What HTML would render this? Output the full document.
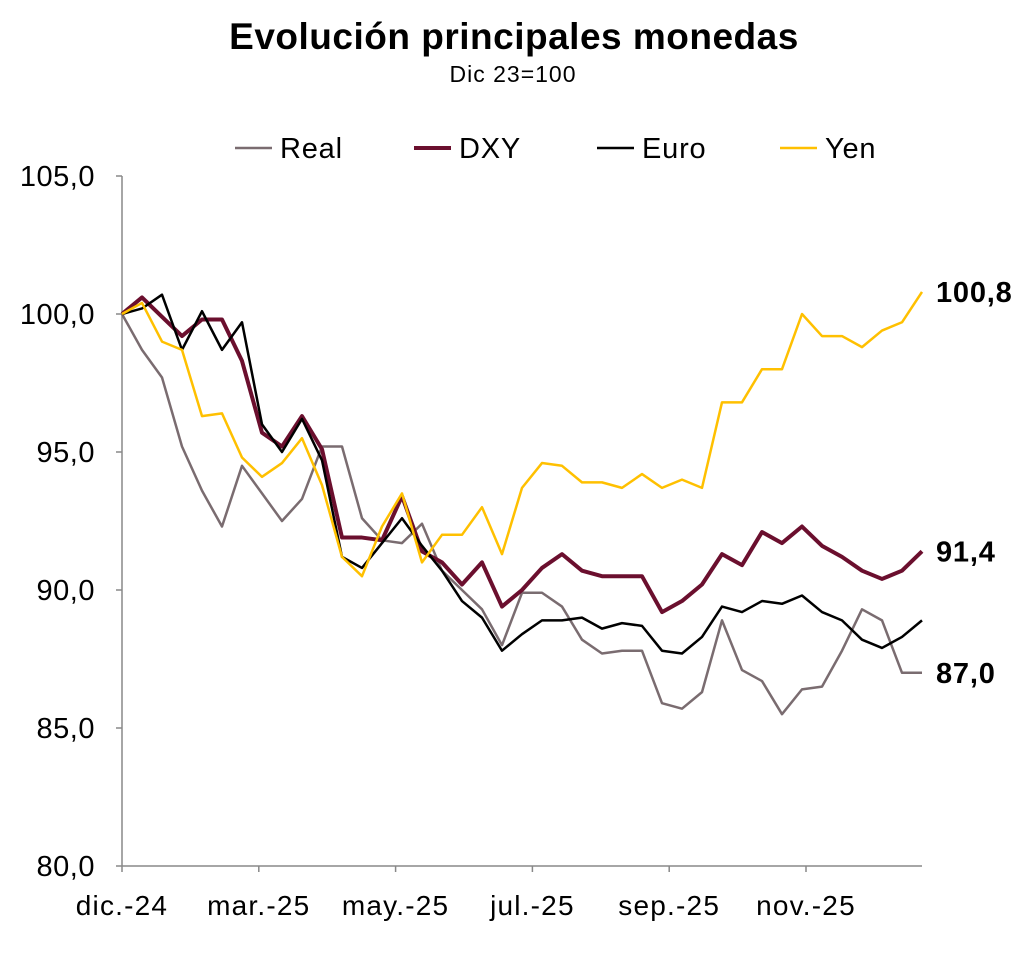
<!DOCTYPE html>
<html><head><meta charset="utf-8"><style>
body{margin:0;background:#fff;font-family:"Liberation Sans",sans-serif}
svg text{font-family:"Liberation Sans",sans-serif}
</style></head><body>
<svg id="chart" width="1027" height="951">
<text x="514" y="49" text-anchor="middle" font-size="37" font-weight="bold" letter-spacing="0.5">Evolución principales monedas</text>
<text x="513" y="82" text-anchor="middle" font-size="23" letter-spacing="1">Dic 23=100</text>
<g id="legend"></g>
<g id="axes"></g>
<g id="series"></g>
</svg>
<script>
const xLabels=["dic.-24","mar.-25","may.-25","jul.-25","sep.-25","nov.-25"];
const yTicks=[80,85,90,95,100,105];
const seriesNames=["Real","DXY","Euro","Yen"];
const real=[100,98.7,97.7,95.2,93.6,92.3,94.5,93.5,92.5,93.3,95.2,95.2,92.6,91.8,91.7,92.4,90.7,90.0,89.3,88.0,89.9,89.9,89.4,88.2,87.7,87.8,87.8,85.9,85.7,86.3,88.9,87.1,86.7,85.5,86.4,86.5,87.8,89.3,88.9,87.0,87.0];
const dxy=[100,100.6,99.9,99.2,99.8,99.8,98.3,95.7,95.2,96.3,95.1,91.9,91.9,91.8,93.4,91.4,91.0,90.2,91.0,89.4,90.0,90.8,91.3,90.7,90.5,90.5,90.5,89.2,89.6,90.2,91.3,90.9,92.1,91.7,92.3,91.6,91.2,90.7,90.4,90.7,91.4];
const euro=[100,100.2,100.7,98.7,100.1,98.7,99.7,96.0,95.0,96.2,94.7,91.2,90.8,91.7,92.6,91.6,90.7,89.6,89.0,87.8,88.4,88.9,88.9,89.0,88.6,88.8,88.7,87.8,87.7,88.3,89.4,89.2,89.6,89.5,89.8,89.2,88.9,88.2,87.9,88.3,88.9];
const yen=[100,100.4,99.0,98.7,96.3,96.4,94.8,94.1,94.6,95.5,93.8,91.2,90.5,92.3,93.5,91.0,92.0,92.0,93.0,91.3,93.7,94.6,94.5,93.9,93.9,93.7,94.2,93.7,94.0,93.7,96.8,96.8,98.0,98.0,100.0,99.2,99.2,98.8,99.4,99.7,100.8];
const endValues=[100.8,91.4,87.0];

const NS="http://www.w3.org/2000/svg";
const x0=122,y0=866,pxPerUnit=27.6,stepPx=20,monthPx=68.4;
const yS=v=>y0-(v-80)*pxPerUnit;
const xS=i=>x0+i*stepPx;
function mk(tag,attrs,parent){const e=document.createElementNS(NS,tag);for(const k in attrs)e.setAttribute(k,attrs[k]);parent.appendChild(e);return e;}
const axes=document.getElementById('axes');
let a=mk('line',{x1:x0,y1:176,x2:x0,y2:y0,stroke:'#888','stroke-width':1.5},axes);


a=mk('line',{x1:x0,y1:y0,x2:922,y2:y0,stroke:'#888','stroke-width':1.5},axes);


yTicks.forEach(v=>{
  mk('line',{x1:x0-6,y1:yS(v),x2:x0,y2:yS(v),stroke:'#888','stroke-width':1.5},axes);
  const t=mk('text',{x:95,y:yS(v)+10,'text-anchor':'end','font-size':29,'letter-spacing':0.5},axes);
  t.textContent=v.toFixed(1).replace('.',',');
  
  
});
xLabels.forEach((l,i)=>{
  const x=x0+i*2*monthPx;
  mk('line',{x1:x,y1:y0,x2:x,y2:y0+6,stroke:'#888','stroke-width':1.5},axes);
  const t=mk('text',{x:x,y:915,'text-anchor':'middle','font-size':28,'letter-spacing':1.2},axes);
  t.textContent=l;
  
  
});
const colors=['#7a6c70','#6b0f2e','#000000','#ffc000'];
const widths=[2.5,4,2.5,2.5];
const data=[real,dxy,euro,yen];
const ser=document.getElementById('series');
data.forEach((d,s)=>{
  const p=mk('polyline',{points:d.map((v,i)=>xS(i)+','+yS(v)).join(' '),fill:'none',stroke:colors[s],'stroke-width':widths[s],'stroke-linejoin':'round'},ser);
  
  
});
endValues.forEach(v=>{
  const t=mk('text',{x:936,y:yS(v)+10,'font-size':29,'font-weight':'bold','letter-spacing':0.8},ser);
  t.textContent=v.toFixed(1).replace('.',',');
  
  
});
const lg=document.getElementById('legend');
const lx=[235,414,597,780];
seriesNames.forEach((n,s)=>{
  mk('line',{x1:lx[s],y1:148,x2:lx[s]+37,y2:148,stroke:colors[s],'stroke-width':widths[s]},lg);
  const t=mk('text',{x:lx[s]+45,y:158,'font-size':29,'letter-spacing':0.8},lg);
  t.textContent=n;
  
  
});
</script>
</body></html>
